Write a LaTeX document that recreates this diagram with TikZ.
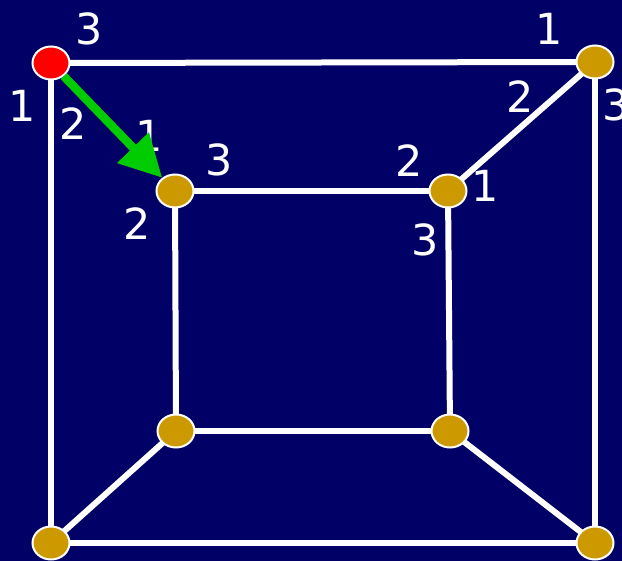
\documentclass[tikz,border=0pt]{standalone}
\usepackage{fontspec}
\setmainfont{DejaVu Sans}
\usetikzlibrary{arrows.meta,shapes.geometric}
\definecolor{bgnavy}{HTML}{000066}
\definecolor{gold}{HTML}{CC9900}
\definecolor{arrowgreen}{HTML}{00CC00}
\tikzset{
  vtx/.style={ellipse,draw=white,line width=2bp,fill=gold,minimum width=37bp,minimum height=33bp,inner sep=0pt},
  root/.style={vtx,fill=red},
  edge/.style={white,line width=6bp},
  lbl/.style={text=white,font=\fontsize{43}{43}\selectfont,inner sep=0pt},
  move/.style={arrowgreen,line width=8.5bp,-{Triangle[length=42bp,width=42bp]}}
}
\begin{document}
\begin{tikzpicture}[x=1bp,y=-1bp]
\fill[bgnavy] (0,0) rectangle (622,561);
\useasboundingbox (0,0) rectangle (622,561);
% vertex positions
\coordinate (pr)   at (51,63);
\coordinate (ptr)  at (595,62);
\coordinate (pbl)  at (51,543);
\coordinate (pbr)  at (595,543);
\coordinate (pitl) at (175,191);
\coordinate (pitr) at (448,191);
\coordinate (pibl) at (176,431);
\coordinate (pibr) at (450,431);
% edges
\draw[edge] (pr) -- (ptr);
\draw[edge] (pr) -- (pbl);
\draw[edge] (ptr) -- (pbr);
\draw[edge] (pbl) -- (pbr);
\draw[edge] (pitl) -- (pitr);
\draw[edge] (pitl) -- (pibl);
\draw[edge] (pitr) -- (pibr);
\draw[edge] (pibl) -- (pibr);
\draw[edge] (ptr) -- (pitr);
\draw[edge] (pibl) -- (pbl);
\draw[edge] (pibr) -- (pbr);
% vertices
\node[root] (r)   at (pr) {};
\node[vtx]  (tr)  at (ptr) {};
\node[vtx]  (bl)  at (pbl) {};
\node[vtx]  (br)  at (pbr) {};
\node[vtx]  (itl) at (pitl) {};
\node[vtx]  (itr) at (pitr) {};
\node[vtx]  (ibl) at (pibl) {};
\node[vtx]  (ibr) at (pibr) {};
% labels
\node[lbl] (l1)  at (89,29)  {3};
\node[lbl] (l2)  at (22,106) {1};
\node[lbl] (l3)  at (73,124) {2};
\node[lbl] (l4)  at (149,136) {1};
\node[lbl] (l5)  at (219,160) {3};
\node[lbl] (l6)  at (137,224) {2};
\node[lbl] (l7)  at (409,161) {2};
\node[lbl] (l8)  at (485,186) {1};
\node[lbl] (l9)  at (425,240) {3};
\node[lbl] (l10) at (520,97)  {2};
\node[lbl] (l11) at (549,29)  {1};
\node[lbl] (l12) at (616,105) {3};
% move arrow
\draw[move] (r) -- (itl);
\end{tikzpicture}
\end{document}
